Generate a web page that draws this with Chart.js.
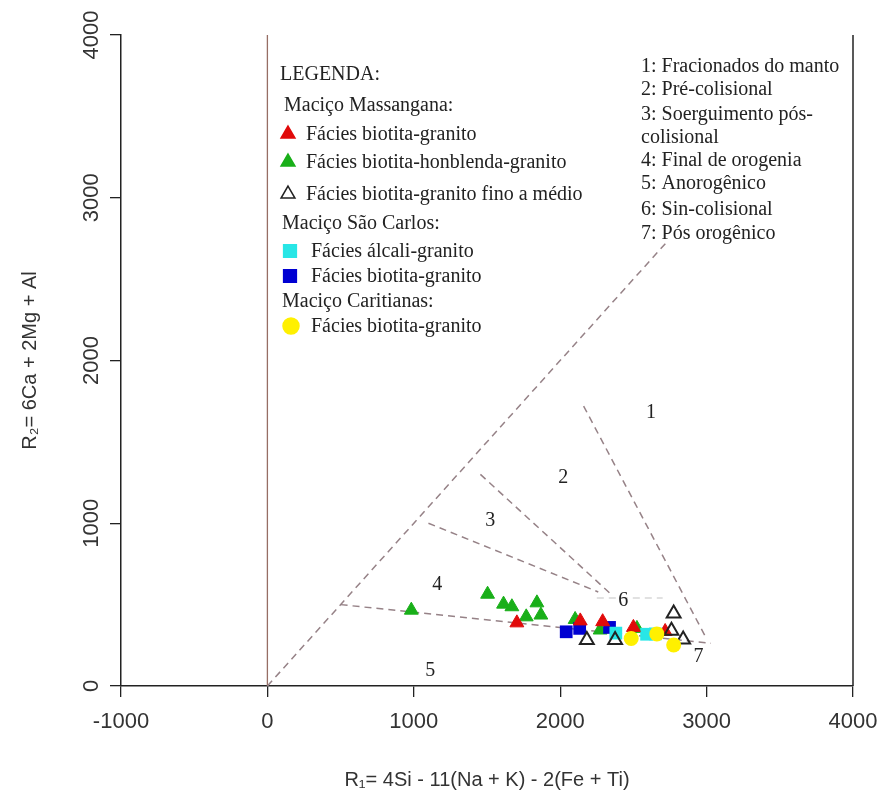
<!DOCTYPE html>
<html>
<head>
<meta charset="utf-8">
<script src="https://cdn.jsdelivr.net/npm/chart.js@4.4.0/dist/chart.umd.min.js"></script>
<style>body{margin:0;background:#fff}</style>
</head>
<body>
<canvas id="myChart" width="885" height="803"></canvas>
<script>
// Maciço Massangana
var redTriX = [1704, 2137, 2290, 2500, 2717];
var redTriY = [388, 400, 395, 360, 335];
var greenTriX = [983, 1504, 1613, 1670, 1841, 1868, 1768, 2102, 2273, 2524];
var greenTriY = [466, 564, 503, 487, 511, 436, 425, 409, 344, 354];
var openTriX = [2182, 2375, 2775, 2760, 2840];
var openTriY = [282, 282, 445, 340, 285];
// Maciço São Carlos
var cyanSqX = [2380, 2590, 2650];
var cyanSqY = [325, 318, 320];
var blueSqX = [2041, 2133, 2337];
var blueSqY = [333, 354, 360];
// Maciço Caritianas
var yellowX = [2485, 2660, 2775];
var yellowY = [292, 320, 252];

// limites dos campos (R1, R2)
var outerX = [0, 2740];
var outerY = [0, 2740];
var baseX = [500, 3030];
var baseY = [500, 262];
var line34X = [1100, 2260];
var line34Y = [1000, 578];
var line23X = [1455, 2340];
var line23Y = [1300, 570];
var line12X = [2160, 3000];
var line12Y = [1720, 290];
var line6X = [2250, 2700];
var line6Y = [540, 540];
var zeroX = [0, 0];
var zeroY = [0, 4000];

var regionNames = ["1", "2", "3", "4", "5", "6", "7"];
var regionX = [2621, 2020, 1522, 1160, 1113, 2430, 2945];
var regionY = [1681, 1282, 1018, 620, 92, 521, 180];

var legendTitle = "LEGENDA:";
var groupNames = ["Maciço Massangana:", "Maciço São Carlos:", "Maciço Caritianas:"];
var seriesNames = [
  "Fácies biotita-granito",
  "Fácies biotita-honblenda-granito",
  "Fácies biotita-granito fino a médio",
  "Fácies álcali-granito",
  "Fácies biotita-granito",
  "Fácies biotita-granito"
];
var fieldNames = [
  "1: Fracionados do manto",
  "2: Pré-colisional",
  "3: Soerguimento pós-",
  "colisional",
  "4: Final de orogenia",
  "5: Anorogênico",
  "6: Sin-colisional",
  "7: Pós orogênico"
];

function pts(xs, ys) {
  return xs.map(function (v, i) { return {x: v, y: ys[i]}; });
}

var dashColor = "rgb(150,130,135)";
function dashed(xs, ys, color) {
  return {
    type: "line", data: pts(xs, ys), showLine: true, pointRadius: 0,
    borderColor: color || dashColor, borderWidth: 1.5, borderDash: [7, 5], fill: false
  };
}

var red = "rgb(225,10,10)";
var green = "rgb(25,175,25)";
var cyan = "rgb(40,230,230)";
var blue = "rgb(0,0,210)";
var yellow = "rgb(255,240,0)";

var boxPlugin = {
  id: "box",
  afterDraw: function (chart) {
    var ctx = chart.ctx, a = chart.chartArea, x = chart.scales.x, y = chart.scales.y;
    ctx.save();
    ctx.strokeStyle = "#222";
    ctx.lineWidth = 1.5;
    ctx.beginPath();
    ctx.moveTo(a.right, a.top);
    ctx.lineTo(a.right, a.bottom);
    ctx.stroke();

    ctx.fillStyle = "#222";
    ctx.textAlign = "center";
    ctx.textBaseline = "middle";
    ctx.font = '20px "Liberation Serif"';
    regionNames.forEach(function (t, i) {
      ctx.fillText(t, x.getPixelForValue(regionX[i]), y.getPixelForValue(regionY[i]));
    });

    // legenda
    ctx.textAlign = "left";
    ctx.font = '20px "Liberation Serif"';
    ctx.fillText(legendTitle, 280, 75);
    ctx.fillText(groupNames[0], 284, 106);
    ctx.fillText(groupNames[1], 282, 224);
    ctx.fillText(groupNames[2], 282, 302);
    var rows = [
      {y: 135, mx: 288, tx: 306, style: "triangle", fill: red, stroke: red},
      {y: 163, mx: 288, tx: 306, style: "triangle", fill: green, stroke: green},
      {y: 195, mx: 288, tx: 306, style: "triangle", fill: "#fff", stroke: "#222"},
      {y: 252, mx: 290, tx: 311, style: "rect", fill: cyan, stroke: cyan},
      {y: 277, mx: 290, tx: 311, style: "rect", fill: blue, stroke: blue},
      {y: 327, mx: 291, tx: 311, style: "circle", fill: yellow, stroke: yellow}
    ];
    rows.forEach(function (r, i) {
      ctx.fillStyle = r.fill;
      ctx.strokeStyle = r.stroke;
      ctx.lineWidth = 1.5;
      Chart.helpers.drawPoint(ctx, {pointStyle: r.style, radius: r.style === "rect" ? 9 : 8, borderWidth: 1.5}, r.mx, r.y - 1);
      ctx.fillStyle = "#222";
      ctx.fillText(seriesNames[i], r.tx, r.y);
    });

    ctx.font = '20px "Liberation Serif"';
    var fy = [67, 90, 115, 138, 161, 184, 210, 234];
    fieldNames.forEach(function (t, i) {
      ctx.fillText(t, 641, fy[i]);
    });
    ctx.restore();
  }
};

function plain(v) { return String(v); }

new Chart("myChart", {
  type: "scatter",
  data: {
    datasets: [
      {data: pts(yellowX, yellowY), pointStyle: "circle", pointRadius: 7.5, backgroundColor: yellow, borderColor: yellow, borderWidth: 0},
      {data: pts(openTriX, openTriY), pointStyle: "triangle", pointRadius: 8, backgroundColor: "rgba(255,255,255,0)", borderColor: "#222", borderWidth: 2},
      {data: pts(redTriX, redTriY), pointStyle: "triangle", pointRadius: 8, backgroundColor: red, borderColor: red, borderWidth: 1},
      {data: pts(cyanSqX, cyanSqY), pointStyle: "rect", pointRadius: 9, backgroundColor: cyan, borderColor: cyan, borderWidth: 0},
      {data: pts(blueSqX, blueSqY), pointStyle: "rect", pointRadius: 9, backgroundColor: blue, borderColor: blue, borderWidth: 0},
      {data: pts(greenTriX, greenTriY), pointStyle: "triangle", pointRadius: 8, backgroundColor: green, borderColor: green, borderWidth: 1},
      dashed(outerX, outerY),
      dashed(baseX, baseY),
      dashed(line34X, line34Y),
      dashed(line23X, line23Y),
      dashed(line12X, line12Y),
      dashed(line6X, line6Y, "rgb(215,215,215)"),
      {type: "line", data: pts(zeroX, zeroY), showLine: true, pointRadius: 0, borderColor: "rgb(150,110,100)", borderWidth: 1.3, fill: false}
    ]
  },
  options: {
    responsive: false,
    animation: false,
    layout: {padding: {top: 35, right: 32, left: 0, bottom: 0}},
    plugins: {legend: {display: false}, tooltip: {enabled: false}},
    scales: {
      x: {
        type: "linear", min: -1000, max: 4000,
        ticks: {stepSize: 1000, color: "#333", padding: 12, callback: plain, font: {family: "Liberation Sans", size: 22}},
        grid: {drawOnChartArea: false, drawTicks: true, tickLength: 11, color: "#222", lineWidth: 1.3},
        border: {display: true, color: "#222", width: 1.5},
        title: {display: true, text: "R\u2081= 4Si - 11(Na + K) - 2(Fe + Ti)", color: "#333",
          font: {family: "Liberation Sans", size: 20}, padding: {top: 0, bottom: 11}},
        afterFit: function (s) { s.height = 117; s.paddingRight = 0; s.paddingLeft = 0; }
      },
      y: {
        type: "linear", min: 0, max: 4000,
        ticks: {stepSize: 1000, color: "#333", padding: -6, minRotation: 90, maxRotation: 90, crossAlign: "center",
          callback: plain, font: {family: "Liberation Sans", size: 22}},
        grid: {drawOnChartArea: false, drawTicks: true, tickLength: 11, color: "#222", lineWidth: 1.3},
        border: {display: true, color: "#222", width: 1.5},
        title: {display: true, text: "R\u2082= 6Ca + 2Mg + Al", color: "#333",
          font: {family: "Liberation Sans", size: 20}, padding: {top: 18, bottom: 0}},
        afterFit: function (s) { s.width = 121; }
      }
    }
  },
  plugins: [boxPlugin]
});
</script>
</body>
</html>
